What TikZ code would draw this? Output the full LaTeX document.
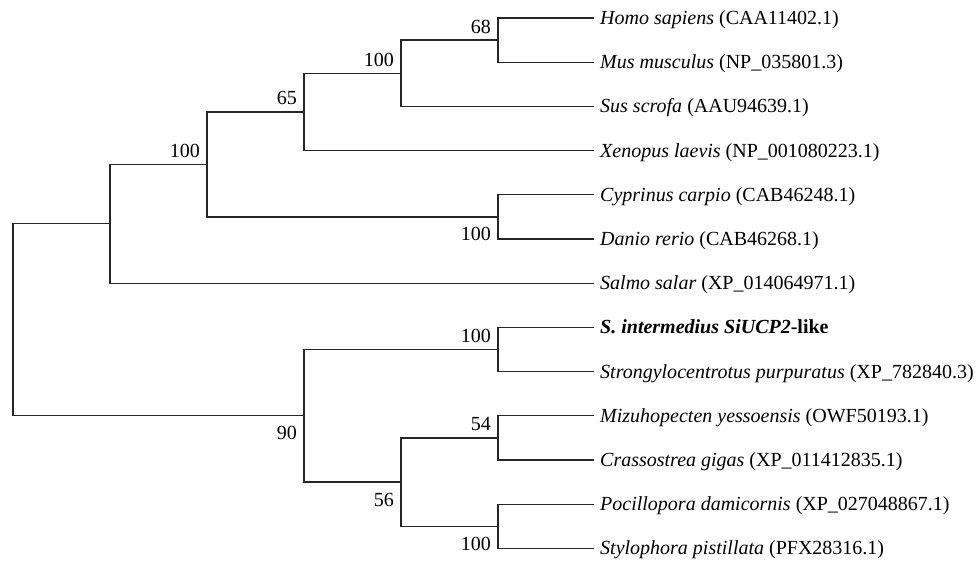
\documentclass[tikz,border=0pt]{standalone}
\usepackage{fontspec}
\setmainfont{Liberation Serif}
\usetikzlibrary{positioning, calc}
\tikzset{%
  branch/.style={draw=black!85, line width=1.3pt, line cap=rect}, % the tree lines
  taxon/.style={anchor=base west, inner sep=0pt, xshift=7pt, yshift=-6.5pt,
    font=\fontsize{20}{24}\selectfont},
  boot/.style={anchor=base east, inner sep=0pt, xshift=-7pt,
    font=\fontsize{20}{24}\selectfont},
  boot above/.style={boot, yshift=7pt},
  boot below/.style={boot, yshift=-24pt}
}

\begin{document}
\begin{tikzpicture}[x=1pt, y=-1pt]
    \useasboundingbox (0,0) rectangle (976,560);

    % tips
    \coordinate (tHomo) at (593,18);
    \coordinate (tMus) at (593,62.2);
    \coordinate (tSus) at (593,106.4);
    \coordinate (tXen) at (593,150.6);
    \coordinate (tCyp) at (593,194.8);
    \coordinate (tDan) at (593,239);
    \coordinate (tSal) at (593,283.2);
    \coordinate (tSint) at (593,327.4);
    \coordinate (tStr) at (593,371.6);
    \coordinate (tMiz) at (593,415.8);
    \coordinate (tCra) at (593,460);
    \coordinate (tPoc) at (593,504.2);
    \coordinate (tSty) at (593,548.4);

    % inner nodes
    \coordinate (nHM) at (498,40.1);
    \coordinate (nHMS) at (401,73.25);
    \coordinate (nTet) at (304,111.9);
    \coordinate (nCD) at (498,216.9);
    \coordinate (nVer) at (207,164.4);
    \coordinate (nSal) at (110,223.8);
    \coordinate (nEch) at (498,349.5);
    \coordinate (nMC) at (498,437.9);
    \coordinate (nPS) at (498,526.3);
    \coordinate (nMP) at (401,482.1);
    \coordinate (nInv) at (304,415.8);
    \coordinate (root) at (13,319.8);

    \node[taxon] (Homo) at (tHomo) {\textit{Homo sapiens} (CAA11402.1)};
    \node[taxon] (Mus) at (tMus) {\textit{Mus musculus} (NP\_035801.3)};
    \node[taxon] (Sus) at (tSus) {\textit{Sus scrofa} (AAU94639.1)};
    \node[taxon] (Xen) at (tXen) {\textit{Xenopus laevis} (NP\_001080223.1)};
    \node[taxon] (Cyp) at (tCyp) {\textit{Cyprinus carpio} (CAB46248.1)};
    \node[taxon] (Dan) at (tDan) {\textit{Danio rerio} (CAB46268.1)};
    \node[taxon] (Sal) at (tSal) {\textit{Salmo salar} (XP\_014064971.1)};
    \node[taxon] (Sint) at (tSint) {\textbf{\textit{S. intermedius SiUCP2}-like}};
    \node[taxon] (Str) at (tStr) {\textit{Strongylocentrotus purpuratus} (XP\_782840.3)};
    \node[taxon] (Miz) at (tMiz) {\textit{Mizuhopecten yessoensis} (OWF50193.1)};
    \node[taxon] (Cra) at (tCra) {\textit{Crassostrea gigas} (XP\_011412835.1)};
    \node[taxon] (Poc) at (tPoc) {\textit{Pocillopora damicornis} (XP\_027048867.1)};
    \node[taxon] (Sty) at (tSty) {\textit{Stylophora pistillata} (PFX28316.1)};

    \draw[branch] (nHM) |- (tHomo) (nHM) |- (tMus);
    \draw[branch] (nHMS) |- (nHM) (nHMS) |- (tSus);
    \draw[branch] (nTet) |- (nHMS) (nTet) |- (tXen);
    \draw[branch] (nCD) |- (tCyp) (nCD) |- (tDan);
    \draw[branch] (nVer) |- (nTet) (nVer) |- (nCD);
    \draw[branch] (nSal) |- (nVer) (nSal) |- (tSal);
    \draw[branch] (nEch) |- (tSint) (nEch) |- (tStr);
    \draw[branch] (nMC) |- (tMiz) (nMC) |- (tCra);
    \draw[branch] (nPS) |- (tPoc) (nPS) |- (tSty);
    \draw[branch] (nMP) |- (nMC) (nMP) |- (nPS);
    \draw[branch] (nInv) |- (nEch) (nInv) |- (nMP);
    \draw[branch] (root) |- (nSal) (root) |- (nInv);

    % bootstrap values
    \node[boot above] (bHM) at (nHM) {68};
    \node[boot above] (bHMS) at (nHMS) {100};
    \node[boot above] (bTet) at (nTet) {65};
    \node[boot above] (bVer) at (nVer) {100};
    \node[boot below] (bCD) at (nCD) {100};
    \node[boot below] (bInv) at (nInv) {90};
    \node[boot above] (bEch) at (nEch) {100};
    \node[boot below] (bMP) at (nMP) {56};
    \node[boot above] (bMC) at (nMC) {54};
    \node[boot below] (bPS) at (nPS) {100};
\end{tikzpicture}
\end{document}
